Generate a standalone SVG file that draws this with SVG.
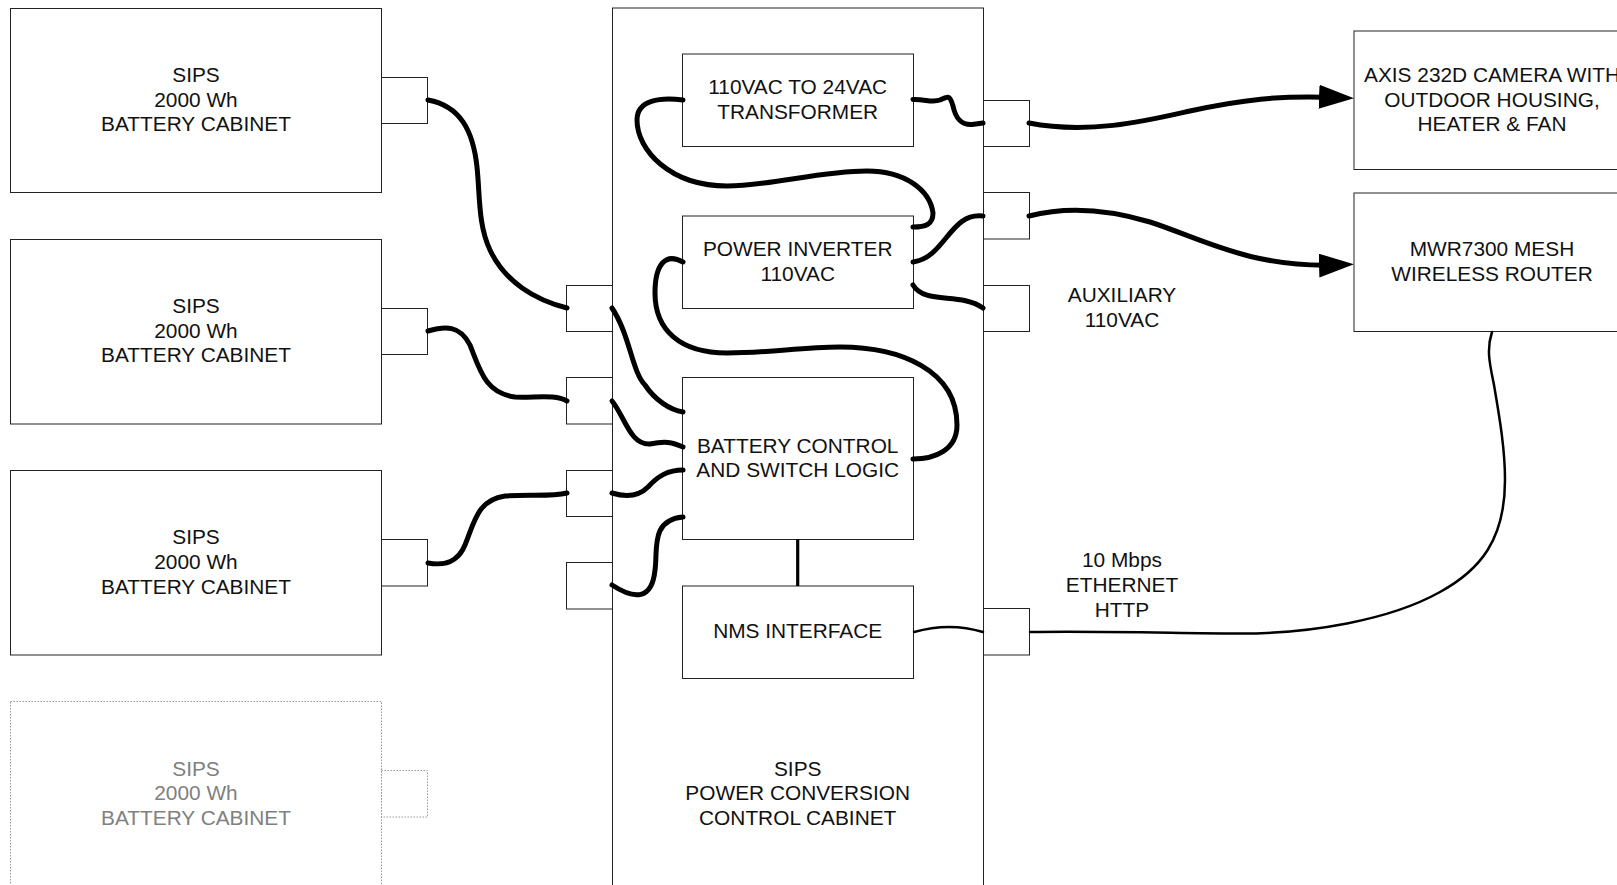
<svg xmlns="http://www.w3.org/2000/svg" width="1617" height="885" viewBox="0 0 1617 885">
<style>
text{font-family:"Liberation Sans",Arial,sans-serif;font-size:20.85px;fill:#111;text-anchor:middle}
.b{fill:#fff;stroke:#222;stroke-width:1}
.g{fill:#fff;stroke:#999;stroke-width:1;stroke-dasharray:1.5 1.5}
.gt{fill:#808080}
.w{fill:none;stroke:#000;stroke-width:5;stroke-linecap:round}
.t{fill:none;stroke:#000;stroke-width:2.5;stroke-linecap:round}
.v{fill:none;stroke:#000;stroke-width:3.2}
</style>
<defs><marker id="ah" markerUnits="userSpaceOnUse" markerWidth="40" markerHeight="30" refX="17" refY="12" orient="auto"><path d="M0 0L35 12L0 24Z" fill="#000"/></marker></defs>
<rect width="1617" height="885" fill="#fff"/>
<g id="cab1"><rect class="b" x="10.5" y="8.5" width="371" height="184"/><rect class="b" x="381.5" y="77.5" width="46" height="46"/><text x="196" y="81.5">SIPS</text><text x="196" y="106.7">2000 Wh</text><text x="196" y="130.7">BATTERY CABINET</text></g>
<g id="cab2"><rect class="b" x="10.5" y="239.5" width="371" height="184.5"/><rect class="b" x="381.5" y="308.5" width="46" height="46"/><text x="196" y="313">SIPS</text><text x="196" y="337.5">2000 Wh</text><text x="196" y="361.7">BATTERY CABINET</text></g>
<g id="cab3"><rect class="b" x="10.5" y="470.5" width="371" height="184.5"/><rect class="b" x="381.5" y="539.5" width="46" height="46.5"/><text x="196" y="544">SIPS</text><text x="196" y="568.5">2000 Wh</text><text x="196" y="593.7">BATTERY CABINET</text></g>
<g id="cab4"><rect class="g" x="10.5" y="701.5" width="371" height="200"/><rect class="g" x="381.5" y="770.5" width="46" height="46.5"/><text class="gt" x="196" y="776">SIPS</text><text class="gt" x="196" y="800">2000 Wh</text><text class="gt" x="196" y="825">BATTERY CABINET</text></g>
<g id="control-cabinet"><rect class="b" x="612.5" y="8" width="371" height="900"/><text x="797.7" y="776">SIPS</text><text x="797.7" y="800">POWER CONVERSION</text><text x="797.7" y="825">CONTROL CABINET</text></g>
<g id="ports"><rect class="b" x="566.5" y="285.5" width="46" height="46"/><rect class="b" x="566.5" y="377.5" width="46" height="46.5"/><rect class="b" x="566.5" y="470.5" width="46" height="46"/><rect class="b" x="566.5" y="562.5" width="46" height="46.5"/><rect class="b" x="983.5" y="100.5" width="46" height="46"/><rect class="b" x="983.5" y="192.5" width="46" height="46.5"/><rect class="b" x="983.5" y="285.5" width="46" height="46"/><rect class="b" x="983.5" y="608.5" width="46" height="46.5"/></g>
<g id="transformer"><rect class="b" x="682.5" y="54" width="231" height="92.5"/><text x="797.7" y="94">110VAC TO 24VAC</text><text x="797.7" y="119">TRANSFORMER</text></g>
<g id="inverter"><rect class="b" x="682.5" y="216" width="231" height="92.5"/><text x="797.7" y="256">POWER INVERTER</text><text x="797.7" y="281">110VAC</text></g>
<g id="battery-control"><rect class="b" x="682.5" y="377.5" width="231" height="162"/><text x="797.7" y="453">BATTERY CONTROL</text><text x="797.7" y="477">AND SWITCH LOGIC</text></g>
<g id="nms"><rect class="b" x="682.5" y="586" width="231" height="92.5"/><text x="797.7" y="637.5">NMS INTERFACE</text></g>
<g id="camera"><rect class="b" x="1354" y="31" width="290" height="138.5"/><text x="1492" y="82">AXIS 232D CAMERA WITH</text><text x="1492" y="107">OUTDOOR HOUSING,</text><text x="1492" y="131">HEATER &amp; FAN</text></g>
<g id="router"><rect class="b" x="1354" y="193" width="290" height="138.5"/><text x="1492" y="256">MWR7300 MESH</text><text x="1492" y="281">WIRELESS ROUTER</text></g>
<g id="labels"><text x="1122" y="302">AUXILIARY</text><text x="1122" y="327">110VAC</text><text x="1122" y="567">10 Mbps</text><text x="1122" y="592">ETHERNET</text><text x="1122" y="617">HTTP</text></g>
<g id="connectors">
<path class="w" d="M683 100C660 97 637 100 637 120C637 150 670 186 727 186C770 186 820 171 867 171C905 171 930 190 933 213C933 225 925 227 913 227"/>
<path class="w" d="M913 99.5C925 99 932 103 940 100C948 96 950 95 953 106C956 120 962 125 972 124.5L983 123"/>
<path class="w" d="M913 262C945 258 950 212 983 216"/>
<path class="w" d="M913 285C925 305 960 292 983 308"/>
<path class="w" d="M683 262C665 252 655 265 655 293C655 330 680 353 727 353C770 353 800 347 840 347C900 347 957 370 957 425C957 450 935 459 913 459"/>
<path class="w" d="M612 308C630 335 632 372 645 385C655 400 670 410 683 412"/>
<path class="w" d="M612 401C625 417 630 445 650 444C665 441 672 442 683 447"/>
<path class="w" d="M612 493C625 497 638 497 648 487C658 476 668 470 683 470"/>
<path class="w" d="M683 517C650 520 658 550 655 570C652 600 635 600 612 585"/>
<path class="w" d="M428 100C460 106 473 130 477 167C480 195 478 225 490 250C505 282 535 300 567 308"/>
<path class="w" d="M428 331C445 326 460 325 470 345C480 370 485 393 515 397C535 398 555 394 567 401"/>
<path class="w" d="M428 563C445 566 458 562 465 545C475 520 478 500 505 496C530 494 550 497 567 493"/>
<path class="w" marker-end="url(#ah)" d="M1029 123C1090 135 1150 120 1190 111C1240 100 1280 95 1336 97.5"/>
<path class="w" marker-end="url(#ah)" d="M1029 216C1060 208 1100 207 1150 222C1200 238 1250 268 1336 265"/>
<path class="t" d="M1492 332C1486 350 1490 365 1494 385C1500 420 1505 450 1505 480C1505 540 1480 570 1440 592C1390 620 1310 634 1236 633.5C1170 633 1100 631 1030 632"/>
<path class="t" d="M914 632C935 626 960 625 983 632"/>
<path class="v" d="M797.7 539V586"/>
</g>
</svg>
